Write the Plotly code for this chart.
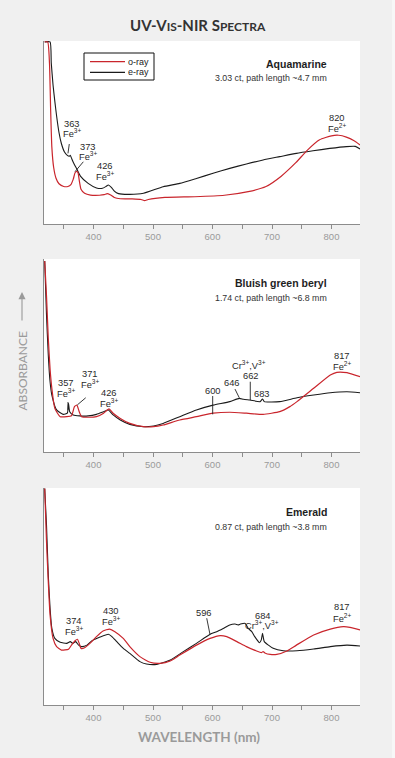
import plotly.graph_objects as go

# ---------------- data (wavelength nm, relative absorbance) ----------------
aq_o_nm = [318, 323, 326, 328, 330, 333, 337, 342, 350, 357, 362, 366, 369, 372, 374, 376, 379, 385, 395, 410,
           418, 423, 428, 435, 445, 465, 480, 486, 492, 520, 570, 620, 660, 690, 715, 740, 760, 780, 800, 812,
           825, 838, 848]
aq_o_abs = [0.995, 0.995, 0.88, 0.62, 0.42, 0.31, 0.25, 0.22, 0.205, 0.205, 0.215, 0.245, 0.28, 0.288, 0.28,
            0.24, 0.19, 0.168, 0.158, 0.157, 0.16, 0.166, 0.16, 0.145, 0.138, 0.137, 0.134, 0.128, 0.134, 0.145,
            0.149, 0.157, 0.177, 0.205, 0.26, 0.335, 0.405, 0.46, 0.482, 0.485, 0.475, 0.455, 0.432]
aq_e_nm = [318, 327, 329, 332, 335, 338, 342, 346, 351, 356, 359, 361, 363, 367, 372, 378, 391, 405, 415, 421,
           425, 430, 435, 442, 461, 484, 517, 545, 573, 601, 629, 657, 685, 713, 741, 769, 797, 825, 840, 848]
aq_e_abs = [0.995, 0.995, 0.88, 0.76, 0.67, 0.59, 0.50, 0.44, 0.395, 0.375, 0.37, 0.375, 0.36, 0.33, 0.30,
            0.262, 0.222, 0.197, 0.195, 0.205, 0.213, 0.20, 0.18, 0.166, 0.162, 0.168, 0.204, 0.222, 0.249,
            0.277, 0.304, 0.328, 0.35, 0.368, 0.386, 0.40, 0.413, 0.423, 0.424, 0.41]

bg_o_nm = [318, 321, 324, 327, 330, 335, 344, 355, 363, 368, 372, 376, 380, 391, 405, 417, 426, 433, 445, 461,
           484, 501, 517, 545, 573, 601, 629, 657, 685, 713, 730, 742, 770, 798, 809, 826, 848]
bg_o_abs = [0.99, 0.81, 0.59, 0.43, 0.33, 0.226, 0.183, 0.183, 0.188, 0.235, 0.243, 0.209, 0.183, 0.18, 0.183,
            0.201, 0.223, 0.201, 0.174, 0.148, 0.131, 0.131, 0.14, 0.166, 0.183, 0.201, 0.206, 0.201, 0.195,
            0.209, 0.235, 0.261, 0.33, 0.399, 0.413, 0.411, 0.39]
bg_e_nm = [318, 321, 324, 327, 330, 338, 349, 356, 358, 360, 366, 377, 391, 405, 417, 425, 433, 445, 461, 484,
           501, 517, 545, 573, 601, 629, 645, 652, 663, 680, 684, 687, 713, 742, 770, 798, 826, 848]
bg_e_abs = [0.99, 0.71, 0.503, 0.364, 0.295, 0.218, 0.195, 0.201, 0.252, 0.209, 0.192, 0.187, 0.187, 0.195,
            0.209, 0.218, 0.192, 0.166, 0.143, 0.131, 0.135, 0.148, 0.183, 0.218, 0.243, 0.261, 0.278, 0.273,
            0.269, 0.261, 0.275, 0.261, 0.261, 0.281, 0.295, 0.307, 0.312, 0.307]

em_o_nm = [318, 321, 324, 327, 332, 338, 346, 358, 363, 369, 373, 376, 379, 385, 394, 405, 416, 427, 436, 450,
           461, 478, 495, 512, 529, 545, 573, 596, 613, 624, 641, 657, 674, 682, 685, 688, 697, 708, 725, 741,
           770, 798, 820, 831, 848]
em_o_abs = [0.998, 0.753, 0.568, 0.415, 0.307, 0.269, 0.253, 0.257, 0.276, 0.296, 0.303, 0.284, 0.261, 0.264,
            0.284, 0.315, 0.341, 0.35, 0.338, 0.307, 0.269, 0.223, 0.197, 0.192, 0.203, 0.23, 0.276, 0.307,
            0.32, 0.315, 0.292, 0.269, 0.249, 0.241, 0.246, 0.24, 0.233, 0.233, 0.249, 0.276, 0.323, 0.35,
            0.361, 0.358, 0.346]
em_e_nm = [318, 321, 324, 327, 330, 335, 344, 355, 361, 365, 370, 375, 380, 389, 397, 411, 425, 431, 439, 450,
           461, 478, 489, 506, 529, 551, 573, 596, 607, 618, 629, 638, 643, 647, 655, 660, 666, 671, 679, 682,
           684, 687, 694, 702, 719, 742, 770, 798, 826, 848]
em_e_abs = [0.998, 0.829, 0.599, 0.446, 0.353, 0.307, 0.289, 0.284, 0.292, 0.284, 0.292, 0.276, 0.269, 0.276,
            0.295, 0.313, 0.326, 0.315, 0.292, 0.261, 0.238, 0.20, 0.189, 0.187, 0.207, 0.246, 0.284, 0.326,
            0.338, 0.353, 0.369, 0.373, 0.369, 0.373, 0.376, 0.353, 0.338, 0.315, 0.287, 0.30, 0.33, 0.292,
            0.276, 0.261, 0.25, 0.25, 0.258, 0.269, 0.276, 0.272]

tick_vals = [350, 400, 450, 500, 550, 600, 650, 700, 750, 800]
tick_text = ["", "400", "", "500", "", "600", "", "700", "", "800"]

# peak labels: wavelength, absorbance, text
aq_lab_nm = [364, 364, 390, 390, 419, 419, 810, 810]
aq_lab_abs = [0.546, 0.495, 0.422, 0.369, 0.318, 0.262, 0.579, 0.523]
aq_lab_txt = ["363", "Fe<sup>3+</sup>", "373", "Fe<sup>3+</sup>", "426", "Fe<sup>3+</sup>", "820", "Fe<sup>2+</sup>"]
aq_lead = [(359.3, 0.437, 357.1, 0.386), (382.9, 0.340, 368.9, 0.286)]

bg_lab_nm = [354, 354, 394, 394, 426, 426, 600, 633, 662, 664, 684, 817, 817]
bg_lab_abs = [0.356, 0.304, 0.404, 0.351, 0.304, 0.255, 0.316, 0.356, 0.450, 0.395, 0.299, 0.499, 0.446]
bg_lab_txt = ["357", "Fe<sup>3+</sup>", "371", "Fe<sup>3+</sup>", "426", "Fe<sup>3+</sup>", "600", "646",
              "Cr<sup>3+</sup>,V<sup>3+</sup>", "662", "683", "817", "Fe<sup>2+</sup>"]
bg_lead = [(357.1, 0.259, 357.1, 0.218), (386.9, 0.281, 372.8, 0.244), (600.3, 0.290, 600.3, 0.195),
           (637.8, 0.326, 645.0, 0.281), (663.5, 0.364, 663.5, 0.269)]

em_lab_nm = [368, 368, 429, 429, 586, 685, 684, 818, 818]
em_lab_abs = [0.389, 0.341, 0.435, 0.388, 0.425, 0.412, 0.369, 0.451, 0.402]
em_lab_txt = ["374", "Fe<sup>3+</sup>", "430", "Fe<sup>3+</sup>", "596", "684",
              "Cr<sup>3+</sup>,V<sup>3+</sup>", "817", "Fe<sup>2+</sup>"]
em_lead = [(590.3, 0.400, 595.8, 0.325)]

RED = "#c9252c"
BLACK = "#1b1b1b"
LABEL_FONT = "Liberation Sans, Arial, sans-serif"

panels = [
    dict(o=(aq_o_nm, aq_o_abs), e=(aq_e_nm, aq_e_abs), dom=[0.7045, 0.9459], name="Aquamarine",
         sub="3.03 ct, path length ~4.7 mm", ny=0.874, sy=0.80,
         lab=(aq_lab_nm, aq_lab_abs, aq_lab_txt), lead=aq_lead),
    dict(o=(bg_o_nm, bg_o_abs), e=(bg_e_nm, bg_e_abs), dom=[0.4037, 0.6583], name="Bluish green beryl",
         sub="1.74 ct, path length ~6.8 mm", ny=0.874, sy=0.80,
         lab=(bg_lab_nm, bg_lab_abs, bg_lab_txt), lead=bg_lead),
    dict(o=(em_o_nm, em_o_abs), e=(em_e_nm, em_e_abs), dom=[0.0699, 0.3562], name="Emerald",
         sub="0.87 ct, path length ~3.8 mm", ny=0.891, sy=0.822,
         lab=(em_lab_nm, em_lab_abs, em_lab_txt), lead=em_lead),
]

fig = go.Figure()
annotations = []
shapes = []
XDOM = [44 / 395, 360 / 395]

for i, p in enumerate(panels):
    sfx = "" if i == 0 else str(i + 1)
    xa, ya = "x" + sfx, "y" + sfx
    fig.add_trace(go.Scatter(x=p["e"][0], y=p["e"][1], xaxis=xa, yaxis=ya, mode="lines", name="e-ray",
                             line=dict(color=BLACK, width=1.1, shape="spline", smoothing=0.5),
                             showlegend=False, hoverinfo="skip"))
    fig.add_trace(go.Scatter(x=p["o"][0], y=p["o"][1], xaxis=xa, yaxis=ya, mode="lines", name="o-ray",
                             line=dict(color=RED, width=1.2, shape="spline", smoothing=0.5),
                             showlegend=False, hoverinfo="skip"))
    fig.layout["xaxis" + sfx] = dict(domain=XDOM, anchor=ya, range=[316.8, 847.9], showgrid=False,
                                      zeroline=False, showline=True, linecolor="#8c8c8c", linewidth=1,
                                      ticks="outside", ticklen=4, tickcolor="#8c8c8c", tickwidth=1,
                                      tickmode="array", tickvals=tick_vals, ticktext=tick_text,
                                      tickfont=dict(family=LABEL_FONT, size=9.5, color="#9a9a9a"),
                                      fixedrange=True)
    fig.layout["yaxis" + sfx] = dict(domain=p["dom"], anchor=xa, range=[0, 1.0], showgrid=False,
                                      zeroline=False, showline=True, linecolor="#8c8c8c", linewidth=1,
                                      showticklabels=False, ticks="", fixedrange=True)
    # sample name and details
    annotations.append(dict(xref=xa + " domain", yref=ya + " domain", x=(329 - 44) / 316, y=p["ny"],
                            text="<b>" + p["name"] + "</b>", showarrow=False, xanchor="right",
                            yanchor="middle", font=dict(family=LABEL_FONT, size=10.5, color="#1e1e1e")))
    annotations.append(dict(xref=xa + " domain", yref=ya + " domain", x=(329 - 44) / 316, y=p["sy"],
                            text=p["sub"], showarrow=False, xanchor="right", yanchor="middle",
                            font=dict(family=LABEL_FONT, size=8.8, color="#333333")))
    for nm, a, t in zip(*p["lab"]):
        annotations.append(dict(xref=xa, yref=ya, x=nm, y=a, text=t, showarrow=False, xanchor="center",
                                yanchor="middle", font=dict(family=LABEL_FONT, size=9.3, color="#2a2a2a")))
    for (x0, y0, x1, y1) in p["lead"]:
        shapes.append(dict(type="line", xref=xa, yref=ya, x0=x0, y0=y0, x1=x1, y1=y1,
                           line=dict(color="#222222", width=0.9)))

# legend (drawn manually to match compact box)
shapes.append(dict(type="rect", xref="paper", yref="paper", x0=84 / 395, x1=154 / 395,
                   y0=1 - 80 / 758, y1=1 - 53 / 758, line=dict(color="#111111", width=1),
                   fillcolor="white"))
for name, col, yy in [("o-ray", RED, 61.7), ("e-ray", BLACK, 72.3)]:
    shapes.append(dict(type="line", xref="paper", yref="paper", x0=90 / 395, x1=125 / 395,
                       y0=1 - yy / 758, y1=1 - yy / 758, line=dict(color=col, width=1.2)))
    annotations.append(dict(xref="paper", yref="paper", x=126 / 395, y=1 - yy / 758, text=name,
                            showarrow=False, xanchor="left", yanchor="middle",
                            font=dict(family=LABEL_FONT, size=9, color="#222222")))

# right light strip
shapes.append(dict(type="rect", xref="paper", yref="paper", x0=392 / 395, x1=1, y0=0, y1=1,
                   fillcolor="#f7f7f7", line=dict(width=0), layer="below"))

# title (small caps)
annotations.append(dict(xref="paper", yref="paper", x=198 / 395, y=1 - 25 / 758,
                        text="UV-V<span style='font-size:12px'>IS</span>-NIR S<span style='font-size:12px'>PECTRA</span>",
                        showarrow=False, xanchor="center", yanchor="middle",
                        font=dict(family="Lato, sans-serif", size=15, color="#333333", weight="bold")))
# axis titles
annotations.append(dict(xref="paper", yref="paper", x=199 / 395, y=1 - 737 / 758, text="WAVELENGTH (nm)",
                        showarrow=False, xanchor="center", yanchor="middle",
                        font=dict(family="Lato, sans-serif", size=13.5, color="#9a9a9a", weight="bold")))
annotations.append(dict(xref="paper", yref="paper", x=22 / 395, y=1 - 371.5 / 758, text="ABSORBANCE",
                        textangle=-90, showarrow=False, xanchor="center", yanchor="middle",
                        font=dict(family="Lato, sans-serif", size=12, color="#9a9a9a")))
annotations.append(dict(xref="paper", yref="paper", x=22 / 395, y=1 - 292 / 758, text="",
                        showarrow=True, ax=0, ay=30, axref="pixel", ayref="pixel",
                        arrowhead=2, arrowsize=1.3, arrowwidth=1.1, arrowcolor="#9a9a9a"))

fig.update_layout(width=395, height=758, margin=dict(l=0, r=0, t=0, b=0, autoexpand=False),
                  paper_bgcolor="#f0f0f0", plot_bgcolor="white", showlegend=False,
                  annotations=annotations, shapes=shapes)

fig.write_html("out.html", config={"displayModeBar": False, "staticPlot": True},
               post_script="document.body.style.margin='0';")
